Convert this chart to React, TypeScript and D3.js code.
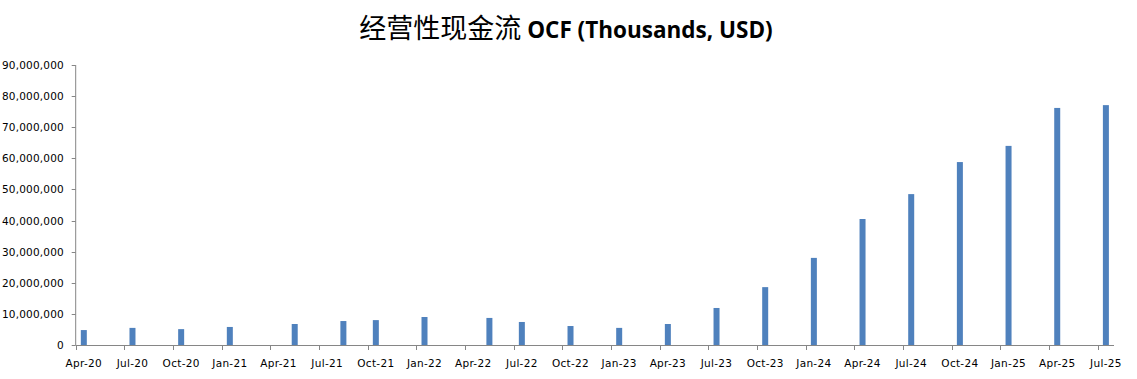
import React from "react";
import * as d3 from "d3";

const TITLE_CN = "经营性现金流";
const TITLE_EN = " OCF (Thousands, USD)";

const periods = [
  "2020-04", "2020-07", "2020-10", "2021-01", "2021-05", "2021-08", "2021-10", "2022-01",
  "2022-05", "2022-07", "2022-10", "2023-01", "2023-04", "2023-07", "2023-10", "2024-01",
  "2024-04", "2024-07", "2024-10", "2025-01", "2025-04", "2025-07",
];
const ocfValues = [
  4.8e6, 5.5e6, 5.1e6, 5.8e6, 6.75e6, 7.7e6, 8.0e6, 9.0e6,
  8.7e6, 7.4e6, 6.1e6, 5.5e6, 6.75e6, 11.9e6, 18.6e6, 28.0e6,
  40.5e6, 48.5e6, 58.8e6, 64.0e6, 76.2e6, 77.1e6,
];
const yTicks = [0, 10e6, 20e6, 30e6, 40e6, 50e6, 60e6, 70e6, 80e6, 90e6];
const axisStart = "2020-04";
const axisEnd = "2025-07";
const tickEveryMonths = 3;

const W = 1137, H = 379;
const M = { left: 75.7, right: 1114, top: 65, bottom: 345 };
const BAR_COLOR = "#4F81BD";
const AXIS_COLOR = "#868686";

const parse = d3.timeParse("%Y-%m");
const fmtMonth = d3.timeFormat("%b-%y");
const fmtNum = d3.format(",");

export default function App() {
  const start = parse(axisStart)!;
  const end = d3.timeMonth.offset(parse(axisEnd)!, 1);
  const months = d3.timeMonth.range(start, end);
  const keys = months.map((m) => d3.timeFormat("%Y-%m")(m));

  const x = d3.scaleBand<string>().domain(keys).range([M.left, M.right]).paddingInner(0).paddingOuter(0);
  const y = d3.scaleLinear().domain([0, 90e6]).range([M.bottom, M.top]);
  const bw = x.bandwidth();
  const barW = 6;

  const tickMonths = months.filter((_, i) => i % tickEveryMonths === 0);

  return (
    <svg width={W} height={H} style={{ position: "absolute", left: 0, top: 0, background: "#fff" }}>
      <text x={566} y={38} textAnchor="middle" fill="#000">
        <tspan fontFamily="'Noto Sans CJK SC'" fontSize={27} fontWeight={400}>{TITLE_CN}</tspan>
        <tspan fontFamily="'Open Sans', 'Noto Sans', sans-serif" fontSize={22.5} fontWeight={700}>{TITLE_EN}</tspan>
      </text>

      {/* y axis */}
      <line x1={M.left} x2={M.left} y1={M.top} y2={M.bottom} stroke={AXIS_COLOR} strokeWidth={1} />
      {yTicks.map((t) => (
        <g key={t}>
          <line x1={M.left - 4} x2={M.left} y1={Math.round(y(t)) + 0.5} y2={Math.round(y(t)) + 0.5} stroke={AXIS_COLOR} />
          <text x={64} y={y(t) + 4} textAnchor="end" fontFamily="'DejaVu Sans', sans-serif" fontSize={10.5} letterSpacing={0.2} fill="#000">
            {fmtNum(t)}
          </text>
        </g>
      ))}

      {/* bars */}
      {periods.map((p, i) => {
        const cx = x(p)! + bw / 2;
        return (
          <rect key={p} x={cx - barW / 2} y={y(ocfValues[i])} width={barW} height={y(0) - y(ocfValues[i])} fill={BAR_COLOR} />
        );
      })}

      {/* x axis */}
      <line x1={M.left} x2={M.right} y1={M.bottom + 0.5} y2={M.bottom + 0.5} stroke={AXIS_COLOR} />
      {tickMonths.map((m) => {
        const k = d3.timeFormat("%Y-%m")(m);
        const tx = Math.round(x(k)!) + 0.5;
        return (
          <g key={k}>
            <line x1={tx} x2={tx} y1={M.bottom} y2={M.bottom + 5} stroke={AXIS_COLOR} />
            <text x={x(k)! + bw / 2} y={366.5} textAnchor="middle" fontFamily="'DejaVu Sans', sans-serif" fontSize={10.5} letterSpacing={0.3} fill="#000">
              {fmtMonth(m)}
            </text>
          </g>
        );
      })}
    </svg>
  );
}
